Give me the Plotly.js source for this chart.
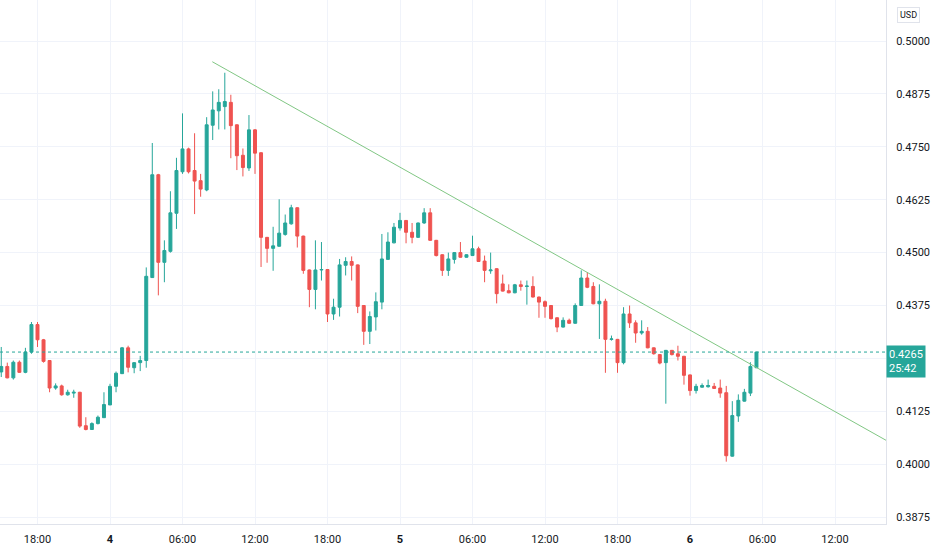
<!DOCTYPE html>
<html>
<head>
<meta charset="utf-8">
<script src="https://cdn.plot.ly/plotly-3.0.1.min.js"></script>
<style>html,body{margin:0;padding:0;background:#fff;}#chart{width:932px;height:550px;}</style>
</head>
<body>
<div id="chart"></div>
<script>
// 30-minute candles, first at 3rd 15:00, last at 6th 05:30
const startTime = '2022-07-03T15:00:00';
const candleCount = 126;

const opens = [
0.4218,0.4231,0.4204,0.4241,0.4217,0.4265,0.4330,0.4294,0.4245,0.4180,
0.4185,0.4164,0.4168,0.4170,0.4091,0.4082,0.4096,0.4110,0.4140,0.4184,
0.4214,0.4275,0.4228,0.4240,0.4245,0.4441,0.4684,0.4477,0.4503,0.4593,
0.4691,0.4745,0.4694,0.4670,0.4648,0.4801,0.4835,0.4845,0.4855,0.4802,
0.4730,0.4700,0.4790,0.4736,0.4536,0.4510,0.4515,0.4543,0.4568,0.4606,
0.4539,0.4459,0.4413,0.4459,0.4460,0.4355,0.4371,0.4470,0.4479,0.4471,
0.4375,0.4314,0.4348,0.4383,0.4484,0.4523,0.4558,0.4576,0.4548,0.4536,
0.4570,0.4594,0.4529,0.4495,0.4458,0.4484,0.4500,0.4489,0.4493,0.4509,
0.4480,0.4457,0.4462,0.4426,0.4410,0.4405,0.4424,0.4420,0.4420,0.4395,
0.4384,0.4375,0.4346,0.4324,0.4340,0.4333,0.4375,0.4440,0.4420,0.4379,
0.4385,0.4295,0.4295,0.4240,0.4355,0.4334,0.4310,0.4314,0.4275,0.4259,
0.4240,0.4269,0.4261,0.4255,0.4211,0.4174,0.4182,0.4183,0.4184,0.4180,
0.4169,0.4019,0.4114,0.4149,0.4168,0.4228];

const highs = [
0.4277,0.4240,0.4245,0.4245,0.4275,0.4336,0.4336,0.4296,0.4246,0.4191,
0.4188,0.4176,0.4176,0.4171,0.4111,0.4099,0.4115,0.4170,0.4190,0.4219,
0.4277,0.4280,0.4241,0.4256,0.4465,0.4759,0.4686,0.4529,0.4645,0.4724,
0.4829,0.4748,0.4782,0.4686,0.4820,0.4881,0.4886,0.4925,0.4873,0.4803,
0.4746,0.4825,0.4792,0.4737,0.4537,0.4561,0.4626,0.4590,0.4613,0.4607,
0.4540,0.4460,0.4529,0.4525,0.4461,0.4391,0.4485,0.4489,0.4491,0.4472,
0.4376,0.4361,0.4406,0.4544,0.4548,0.4570,0.4594,0.4577,0.4570,0.4571,
0.4605,0.4605,0.4530,0.4496,0.4500,0.4501,0.4525,0.4496,0.4540,0.4514,
0.4493,0.4500,0.4463,0.4448,0.4425,0.4426,0.4434,0.4434,0.4444,0.4396,
0.4387,0.4376,0.4347,0.4347,0.4344,0.4380,0.4458,0.4454,0.4430,0.4425,
0.4391,0.4304,0.4296,0.4371,0.4375,0.4340,0.4340,0.4324,0.4276,0.4260,
0.4270,0.4270,0.4280,0.4256,0.4212,0.4190,0.4191,0.4200,0.4192,0.4200,
0.4185,0.4149,0.4165,0.4178,0.4241,0.4265];

const lows = [
0.4206,0.4203,0.4200,0.4216,0.4215,0.4261,0.4277,0.4240,0.4170,0.4176,
0.4162,0.4162,0.4157,0.4086,0.4080,0.4081,0.4094,0.4110,0.4140,0.4170,
0.4213,0.4217,0.4215,0.4220,0.4228,0.4440,0.4399,0.4430,0.4500,0.4556,
0.4686,0.4687,0.4591,0.4632,0.4645,0.4766,0.4791,0.4791,0.4723,0.4695,
0.4680,0.4693,0.4686,0.4466,0.4476,0.4457,0.4514,0.4540,0.4566,0.4512,
0.4450,0.4371,0.4366,0.4434,0.4336,0.4341,0.4349,0.4446,0.4434,0.4357,
0.4282,0.4284,0.4316,0.4366,0.4484,0.4522,0.4552,0.4522,0.4522,0.4535,
0.4568,0.4528,0.4491,0.4445,0.4445,0.4474,0.4488,0.4488,0.4492,0.4478,
0.4430,0.4450,0.4380,0.4408,0.4404,0.4404,0.4410,0.4377,0.4394,0.4346,
0.4346,0.4342,0.4312,0.4323,0.4332,0.4332,0.4374,0.4416,0.4378,0.4296,
0.4216,0.4292,0.4216,0.4236,0.4322,0.4287,0.4306,0.4274,0.4259,0.4236,
0.4143,0.4257,0.4245,0.4188,0.4162,0.4167,0.4181,0.4181,0.4178,0.4157,
0.4006,0.4018,0.4100,0.4148,0.4161,0.4227];

const closes = [
0.4231,0.4204,0.4241,0.4217,0.4265,0.4330,0.4294,0.4243,0.4180,0.4185,
0.4164,0.4170,0.4170,0.4090,0.4082,0.4096,0.4111,0.4141,0.4184,0.4215,
0.4275,0.4229,0.4240,0.4245,0.4444,0.4684,0.4477,0.4505,0.4594,0.4694,
0.4745,0.4691,0.4669,0.4650,0.4802,0.4837,0.4855,0.4857,0.4800,0.4729,
0.4701,0.4790,0.4735,0.4536,0.4510,0.4516,0.4546,0.4570,0.4606,0.4539,
0.4458,0.4413,0.4459,0.4460,0.4355,0.4371,0.4471,0.4479,0.4470,0.4373,
0.4314,0.4349,0.4384,0.4485,0.4525,0.4560,0.4576,0.4548,0.4536,0.4570,
0.4594,0.4529,0.4493,0.4458,0.4485,0.4500,0.4489,0.4495,0.4509,0.4479,
0.4458,0.4459,0.4403,0.4409,0.4405,0.4424,0.4420,0.4421,0.4395,0.4383,
0.4373,0.4344,0.4324,0.4340,0.4333,0.4375,0.4440,0.4418,0.4379,0.4385,
0.4295,0.4296,0.4240,0.4355,0.4334,0.4310,0.4314,0.4275,0.4261,0.4239,
0.4269,0.4259,0.4255,0.4210,0.4174,0.4184,0.4186,0.4186,0.4179,0.4168,
0.4020,0.4115,0.4151,0.4170,0.4231,0.4265];

// trend line
const trendTimes = ['2022-07-04 08:28', '2022-07-06 18:00'];
const trendPrices = [0.4951, 0.4028];

// axis ticks
const xTickVals = ['2022-07-03 18:00','2022-07-04 00:00','2022-07-04 06:00','2022-07-04 12:00','2022-07-04 18:00',
  '2022-07-05 00:00','2022-07-05 06:00','2022-07-05 12:00','2022-07-05 18:00','2022-07-06 00:00','2022-07-06 06:00','2022-07-06 12:00'];
const xTickText = ['18:00','<b>4</b>','06:00','12:00','18:00','<b>5</b>','06:00','12:00','18:00','<b>6</b>','06:00','12:00'];
const yTickVals = [0.3875,0.4000,0.4125,0.4250,0.4375,0.4500,0.4625,0.4750,0.4875,0.5000];
const yTickText = ['0.3875','0.4000','0.4125','','0.4375','0.4500','0.4625','0.4750','0.4875','0.5000'];

const lastPrice = 0.4265;
const lastPriceText = '0.4265';
const countdownText = '25:42';

function pad(n){return (n<10?'0':'')+n;}
const times = [];
{
  const t0 = new Date(startTime + 'Z').getTime();
  for (let i = 0; i < candleCount; i++) {
    const d = new Date(t0 + i * 30 * 60 * 1000);
    times.push(d.getUTCFullYear()+'-'+pad(d.getUTCMonth()+1)+'-'+pad(d.getUTCDate())+' '+pad(d.getUTCHours())+':'+pad(d.getUTCMinutes()));
  }
}

const up = '#26a69a', down = '#ef5350';
const font = {family: 'Roboto, "Open Sans", sans-serif', size: 11, color: '#131722'};

const data = [
  {
    type: 'candlestick',
    x: times, open: opens, high: highs, low: lows, close: closes,
    increasing: {line: {color: up, width: 1}, fillcolor: up},
    decreasing: {line: {color: down, width: 1}, fillcolor: down},
    whiskerwidth: 0,
    hoverinfo: 'none',
    showlegend: false
  },
  {
    type: 'scatter', mode: 'lines',
    x: trendTimes, y: trendPrices,
    line: {color: '#81c784', width: 1},
    hoverinfo: 'none', showlegend: false, cliponaxis: true
  }
];

const layout = {
  width: 932, height: 550,
  margin: {l: 0, r: 46, t: 0, b: 26},
  paper_bgcolor: '#ffffff', plot_bgcolor: '#ffffff',
  font: font,
  showlegend: false,
  xaxis: {
    type: 'date',
    range: ['2022-07-03 14:53:47', '2022-07-06 16:13:12'],
    rangeslider: {visible: false},
    tickmode: 'array', tickvals: xTickVals, ticktext: xTickText,
    showgrid: true, gridcolor: '#f0f3fa', gridwidth: 1,
    showline: true, linecolor: '#e0e3eb', linewidth: 1,
    ticks: '', ticklabelstandoff: 5,
    zeroline: false, fixedrange: true
  },
  yaxis: {
    side: 'right',
    range: [0.385872, 0.509688],
    tickmode: 'array', tickvals: yTickVals, ticktext: yTickText,
    showgrid: true, gridcolor: '#f0f3fa', gridwidth: 1,
    showline: true, linecolor: '#e0e3eb', linewidth: 1,
    ticks: '', ticklabelstandoff: 7,
    zeroline: false, fixedrange: true
  },
  shapes: [
    {type: 'line', xref: 'paper', x0: 0, x1: 1, yref: 'y', y0: lastPrice, y1: lastPrice,
     line: {color: up, width: 1, dash: 'dot'}}
  ],
  annotations: [
    {xref: 'paper', x: 1, xanchor: 'left', xshift: 0,
     yref: 'y', y: lastPrice, yanchor: 'top', yshift: 7,
     text: lastPriceText + '<br>' + countdownText, align: 'left',
     showarrow: false, bgcolor: up, borderpad: 2,
     font: {family: font.family, size: 11, color: '#ffffff'}},
    {xref: 'paper', x: 1, xanchor: 'left', xshift: 11,
     yref: 'paper', y: 1, yanchor: 'top', yshift: -7,
     text: 'USD', showarrow: false, bordercolor: '#e0e3eb', borderwidth: 1, borderpad: 2,
     font: {family: font.family, size: 9, color: '#131722'}}
  ]
};

Plotly.newPlot('chart', data, layout, {displayModeBar: false, staticPlot: true});
</script>
</body>
</html>
